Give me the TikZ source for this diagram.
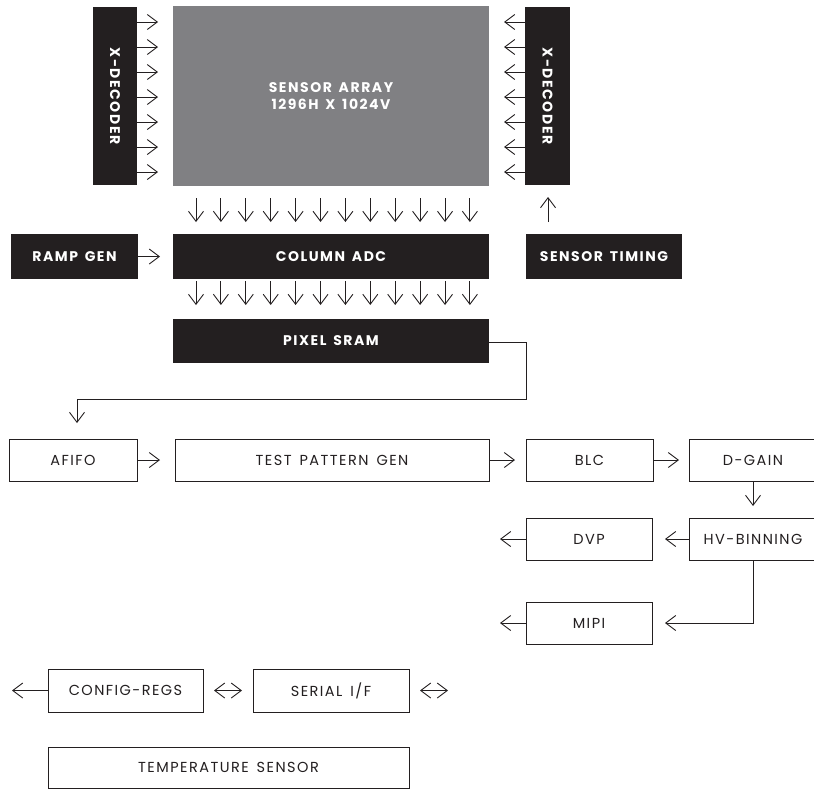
\documentclass[tikz,border=0pt]{standalone}
\usepackage{fontspec}
\usetikzlibrary{arrows.meta}
\setmainfont{Poppins}
\newfontfamily\lblfont[LetterSpace=10,WordSpace=1.5]{Poppins}
\newfontfamily\blkfont[LetterSpace=11,WordSpace=1.5]{Poppins}
\definecolor{ink}{HTML}{231F20}
\definecolor{arraygray}{HTML}{808083}
\begin{document}
\begin{tikzpicture}[x=1pt,y=-1pt,
  tip/.tip={Straight Barb[length=10pt,width=15pt,line width=0.9pt]},
  arr/.style={draw=ink,line width=0.9pt,-tip},
  darr/.style={draw=ink,line width=0.9pt,tip-tip},
  blk/.style={fill=ink,draw=none,text=white,inner sep=0pt,outer sep=0pt,anchor=north west,
    font=\blkfont\bfseries\fontsize{14}{17}\selectfont,align=center},
  wbox/.style={fill=white,draw=ink,line width=0.9pt,text=ink,inner sep=0pt,outer sep=0pt,anchor=north west,
    font=\lblfont\fontsize{14.5}{16}\selectfont,align=center}]
\useasboundingbox (0,0) rectangle (814,790);

% top section
\node[blk,minimum width=44pt,minimum height=178pt] (xdl) at (93,7) {};
\node[rotate=-90,text=white,font=\blkfont\bfseries\fontsize{14}{16}\selectfont] at (xdl.center) {X-DECODER};
\node[blk,fill=arraygray,minimum width=316pt,minimum height=180pt] (arr) at (173,6)
  {SENSOR ARRAY\\1296H X 1024V};
\node[blk,minimum width=45pt,minimum height=178pt] (xdr) at (525,7) {};
\node[rotate=-90,text=white,font=\blkfont\bfseries\fontsize{14}{16}\selectfont] at (xdr.center) {X-DECODER};

\foreach \y in {22,47,72,97,122,147,172}{
  \draw[arr] ([xshift=-3pt]xdl.east |- 0,\y) -- ++(24,0);
  \draw[arr] ([xshift=4pt]xdr.west |- 0,\y) -- ++(-25,0);
}

\node[blk,minimum width=127pt,minimum height=45pt] (ramp) at (11,234) {RAMP GEN};
\node[blk,minimum width=316pt,minimum height=45pt] (adc) at (173,234) {COLUMN ADC};
\node[blk,minimum width=156pt,minimum height=45pt] (timing) at (526,234) {SENSOR TIMING};
\node[blk,minimum width=316pt,minimum height=44pt] (sram) at (173,319) {PIXEL SRAM};

\foreach \i in {0,...,11}{
  \draw[arr] (196+24.9*\i,198) -- (196+24.9*\i,222);
  \draw[arr] (196+24.9*\i,281) -- (196+24.9*\i,305);
}
\draw[arr] (ramp.east) -- ++(22,0);
\coordinate (tmtip) at (548,197);
\draw[arr] (timing.north -| tmtip) ++(0,-12) -- (tmtip);

% datapath
\node[wbox,minimum width=128pt,minimum height=42pt] (afifo) at (9,439) {AFIFO};
\node[wbox,minimum width=314pt,minimum height=42pt] (tpg) at (175,439) {TEST PATTERN GEN};
\node[wbox,minimum width=127pt,minimum height=42pt] (blc) at (526,439) {BLC};
\node[wbox,minimum width=128pt,minimum height=42pt] (dgain) at (689,439) {D-GAIN};
\node[wbox,minimum width=128pt,minimum height=42pt] (hvb) at (689,518) {HV-BINNING};
\node[wbox,minimum width=126pt,minimum height=42pt] (dvp) at (526,518) {DVP};
\node[wbox,minimum width=126pt,minimum height=42pt] (mipi) at (526,602) {MIPI};

\coordinate (srambend) at (526,399);
\draw[arr] (sram.east |- 0,342) -| (srambend) -| ([yshift=16pt]afifo.north -| 77,0);
\draw[arr] (afifo.east) -- ++(23,0);
\draw[arr] (tpg.east) -- ++(26,0);
\draw[arr] (blc.east) -- ++(26,0);
\draw[arr] (dgain.south -| 753,0) -- ++(0,25);
\draw[arr] (hvb.west) -- ++(-24,0);
\draw[arr] (dvp.west) -- ++(-26,0);
\draw[arr] (hvb.south -| 753,0) |- ([xshift=13pt]mipi.east);
\draw[arr] (mipi.west) -- ++(-26,0);

% control
\node[wbox,minimum width=155pt,minimum height=43pt] (cfg) at (48,669) {CONFIG-REGS};
\node[wbox,minimum width=156pt,minimum height=43pt] (ser) at (253,669) {SERIAL I/F};
\node[wbox,minimum width=361pt,minimum height=41pt] (temp) at (48,747) {TEMPERATURE SENSOR};
\draw[arr] (cfg.west) -- ++(-36,0);
\draw[darr] ([xshift=11pt]cfg.east) -- ([xshift=-11pt]ser.west);
\draw[darr] ([xshift=11pt]ser.east) -- ++(28,0);
\end{tikzpicture}
\end{document}
